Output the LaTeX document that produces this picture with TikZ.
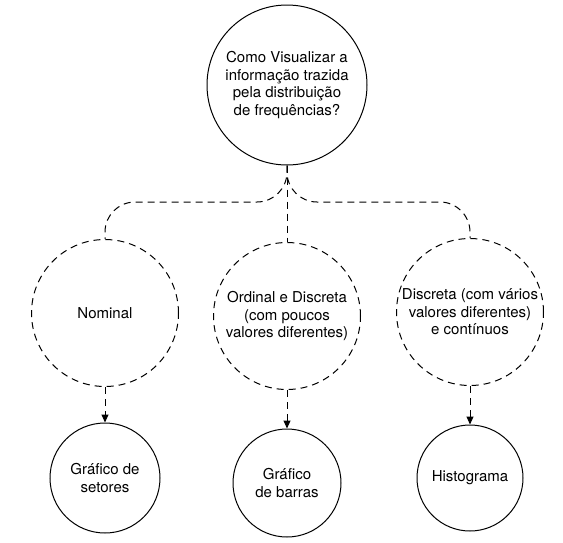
\documentclass[tikz,border=0pt]{standalone}
\usepackage{fontspec}
\setmainfont{TeX Gyre Heros}
\usetikzlibrary{arrows.meta,positioning}
\definecolor{ChartInk}{HTML}{000000}
\tikzset{
  chart/node/.style={
    circle, draw=ChartInk, line width=1pt, fill=white,
    inner sep=0pt, align=center,
    font=\fontsize{15}{17.5}\selectfont
  },
  chart/question/.style={chart/node, minimum size=160pt},
  chart/kind/.style={chart/node, minimum size=147pt,
    dash pattern=on 7pt off 5pt},
  chart/plot/.style={chart/node, minimum size=108pt},
  chart/link/.style={
    line width=1pt, draw=ChartInk, dash pattern=on 7pt off 5pt,
    rounded corners=30pt
  },
  chart/arrow/.style={
    -{Triangle[length=8pt,width=7pt]}, line width=1pt, draw=ChartInk,
    dash pattern=on 7pt off 5pt
  }
}
\begin{document}
\begin{tikzpicture}[x=1pt,y=-1pt]
  \useasboundingbox (0,0) rectangle (563,542);
  \node[chart/question] (quest) at (287,85)
    {Como Visualizar a\\informação trazida\\pela distribuição\\de frequências?};
  \node[chart/kind] (nominal) at (105,313) {Nominal};
  \node[chart/kind] (ordinal) at (287,316)
    {Ordinal e Discreta\\(com poucos\\valores diferentes)};
  \node[chart/kind] (discrete) at (470,312)
    {Discreta (com vários\\valores diferentes)\\e contínuos};
  \node[chart/plot, minimum size=110pt] (pie) at (105,478)
    {Gráfico de\\setores};
  \node[chart/plot] (bars) at (287,483) {Gráfico\\de barras};
  \node[chart/plot, minimum size=106pt] (hist) at (470,478) {Histograma};
  \coordinate (split) at (287,202);
  \draw[chart/link] (quest.south) -- (split) -- (split -| nominal.north)
    -- (nominal.north);
  \draw[chart/link] (quest.south) -- (split) -- (split -| discrete.north)
    -- (discrete.north);
  \draw[chart/link] (quest.south) -- (ordinal.north);
  \draw[chart/arrow] (nominal.south) -- (pie.north);
  \draw[chart/arrow] (ordinal.south) -- (bars.north);
  \draw[chart/arrow] (discrete.south) -- (hist.north);
\end{tikzpicture}
\end{document}
